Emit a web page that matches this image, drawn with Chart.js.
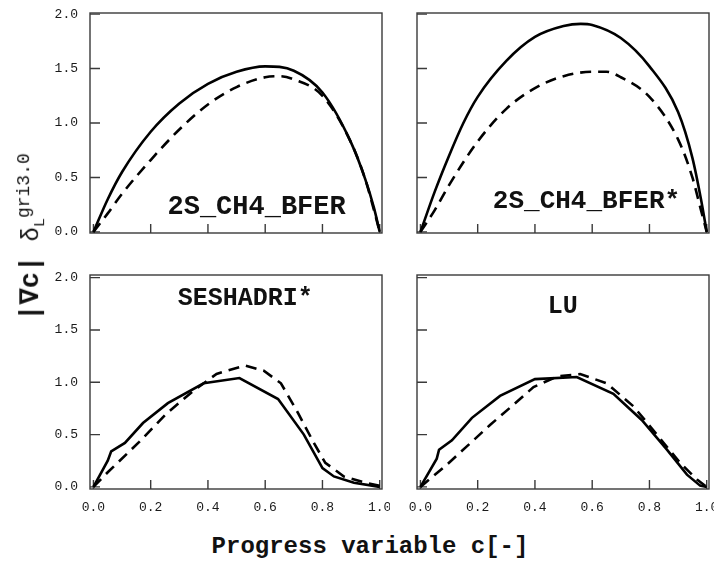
<!DOCTYPE html>
<html lang="en">

<head>
    <meta charset="UTF-8">
    <title>Progress variable gradient</title>
    <script src="https://cdn.jsdelivr.net/npm/chart.js"></script>
    <style>
        body { margin: 0; background: #fff; overflow: hidden; }
        #wrap { position: relative; width: 714px; height: 563px; overflow: hidden; }
        canvas { position: absolute; }
        .title { position: absolute; font-family: "Liberation Mono", "DejaVu Sans Mono", monospace; color: #111; white-space: nowrap; }
        #xtitle { left: 370px; top: 546px; transform: translate(-50%, -50%); font-size: 24px; font-weight: bold; }
        #ytitle { left: 31px; top: 237px; transform: translate(-50%, -50%) rotate(-90deg); font-size: 24px; }
        #ytitle .main { font-weight: bold; font-size: 27px; }
        #ytitle sub { font-size: 15px; }
        #ytitle sup { font-size: 18px; }
    </style>
</head>

<body>
    <div id="wrap">
        <canvas id="tl"></canvas>
        <canvas id="tr"></canvas>
        <canvas id="bl"></canvas>
        <canvas id="br"></canvas>
        <div id="xtitle" class="title">Progress variable c[-]</div>
        <div id="ytitle" class="title"><span class="main">|∇c|</span> δ<sub>L</sub><sup>gri3.0</sup></div>
    </div>

    <script>
        // tick values
        const xTicks = [0, 0.2, 0.4, 0.6, 0.8, 1.0];
        const yTicks = [0, 0.5, 1.0, 1.5, 2.0];

        // 2S_CH4_BFER
        const tlSolidC = [0, 0.05, 0.1, 0.2, 0.3, 0.4, 0.5, 0.6, 0.7, 0.8, 0.9, 0.95, 0.98, 1.0];
        const tlSolidV = [0, 0.30, 0.55, 0.92, 1.18, 1.36, 1.47, 1.52, 1.48, 1.28, 0.82, 0.48, 0.22, 0];
        const tlDashC = [0, 0.05, 0.1, 0.2, 0.3, 0.4, 0.5, 0.6, 0.65, 0.7, 0.8, 0.9, 0.95, 0.98, 1.0];
        const tlDashV = [0, 0.17, 0.35, 0.66, 0.94, 1.17, 1.33, 1.42, 1.43, 1.40, 1.25, 0.82, 0.48, 0.20, 0];

        // 2S_CH4_BFER*
        const trSolidC = [0, 0.05, 0.1, 0.15, 0.2, 0.3, 0.4, 0.5, 0.56, 0.6, 0.7, 0.8, 0.9, 0.95, 0.98, 1.0];
        const trSolidV = [0, 0.37, 0.70, 1.00, 1.24, 1.57, 1.79, 1.89, 1.91, 1.90, 1.78, 1.52, 1.10, 0.68, 0.30, 0];
        const trDashC = [0, 0.05, 0.1, 0.2, 0.3, 0.4, 0.5, 0.6, 0.65, 0.7, 0.8, 0.9, 0.95, 0.98, 1.0];
        const trDashV = [0, 0.20, 0.43, 0.83, 1.13, 1.32, 1.43, 1.47, 1.47, 1.42, 1.24, 0.85, 0.50, 0.20, 0];

        // SESHADRI*
        const blSolidC = [0, 0.05, 0.062, 0.11, 0.173, 0.26, 0.385, 0.51, 0.645, 0.735, 0.80, 0.84, 0.91, 1.0];
        const blSolidV = [0, 0.25, 0.34, 0.42, 0.61, 0.80, 0.99, 1.04, 0.84, 0.50, 0.18, 0.10, 0.04, 0];
        const blDashC = [0, 0.05, 0.16, 0.255, 0.35, 0.43, 0.53, 0.595, 0.655, 0.71, 0.77, 0.81, 0.875, 0.95, 1.0];
        const blDashV = [0, 0.14, 0.43, 0.70, 0.92, 1.08, 1.16, 1.11, 0.99, 0.73, 0.42, 0.23, 0.10, 0.04, 0.01];

        // LU
        const brSolidC = [0, 0.057, 0.065, 0.11, 0.18, 0.278, 0.40, 0.546, 0.674, 0.773, 0.861, 0.931, 0.977, 1.0];
        const brSolidV = [0, 0.27, 0.356, 0.445, 0.66, 0.87, 1.03, 1.05, 0.89, 0.64, 0.356, 0.117, 0.012, 0];
        const brDashC = [0, 0.086, 0.162, 0.244, 0.325, 0.395, 0.477, 0.558, 0.651, 0.744, 0.826, 0.907, 0.966, 1.0];
        const brDashV = [0, 0.197, 0.387, 0.594, 0.785, 0.954, 1.055, 1.078, 0.99, 0.77, 0.50, 0.23, 0.07, 0];

        const panelLabels = ['2S_CH4_BFER', '2S_CH4_BFER*', 'SESHADRI*', 'LU'];

        const monoFont = '"Liberation Mono", "DejaVu Sans Mono", monospace';

        const toPoints = (cs, vs) => cs.map((c, i) => ({ x: c, y: vs[i] }));

        // frame, inward ticks and panel label
        const framePlugin = {
            id: 'frame',
            beforeDatasetsDraw(chart) {
                const { ctx, chartArea: a, scales: { x, y } } = chart;
                ctx.save();
                ctx.strokeStyle = '#3a3a3a';
                ctx.lineWidth = 1.4;
                ctx.strokeRect(a.left, a.top, a.right - a.left, a.bottom - a.top);
                ctx.beginPath();
                xTicks.forEach(v => {
                    const px = x.getPixelForValue(v);
                    ctx.moveTo(px, a.bottom);
                    ctx.lineTo(px, a.bottom - 9);
                });
                yTicks.forEach(v => {
                    const py = y.getPixelForValue(v);
                    ctx.moveTo(a.left, py);
                    ctx.lineTo(a.left + 10, py);
                });
                ctx.stroke();
                ctx.restore();
            },
            afterDraw(chart) {
                const o = chart.options.plugins.frame;
                const { ctx, scales: { x, y } } = chart;
                ctx.save();
                ctx.fillStyle = '#111';
                ctx.font = 'bold ' + o.size + 'px ' + monoFont;
                ctx.textAlign = 'center';
                ctx.textBaseline = 'alphabetic';
                ctx.fillText(o.label, x.getPixelForValue(o.at[0]), y.getPixelForValue(o.at[1]));
                ctx.restore();
            }
        };

        function makePanel(id, box, solid, dashed, label, labelAt, labelSize, showX, showY, yMin, yMax, tension) {
            const axisW = 44, axisH = 34;
            const padL = 45, padT = 5, padR = 8, padB = 35;
            const canvas = document.getElementById(id);
            canvas.width = box.r - box.l + padL + padR;
            canvas.height = box.b - box.t + padT + padB;
            canvas.style.left = (box.l - padL) + 'px';
            canvas.style.top = (box.t - padT) + 'px';

            // fixed axis boxes so every panel has the same plot area
            const fixFit = horizontal => scale => {
                if (horizontal) scale.height = axisH; else scale.width = axisW;
                scale.paddingLeft = scale.paddingRight = scale.paddingTop = scale.paddingBottom = 0;
            };

            return new Chart(canvas.getContext('2d'), {
                type: 'line',
                data: {
                    datasets: [{
                        data: solid,
                        borderColor: '#000',
                        borderWidth: 2.6,
                        pointRadius: 0,
                        tension: tension,
                        cubicInterpolationMode: tension > 0 ? 'monotone' : 'default'
                    }, {
                        data: dashed,
                        borderColor: '#000',
                        borderWidth: 2.6,
                        borderDash: [11, 7],
                        pointRadius: 0,
                        tension: tension,
                        cubicInterpolationMode: tension > 0 ? 'monotone' : 'default'
                    }]
                },
                options: {
                    responsive: false,
                    animation: false,
                    events: [],
                    layout: { padding: { left: padL - axisW, top: padT, right: padR, bottom: padB - axisH } },
                    plugins: {
                        legend: { display: false },
                        tooltip: { enabled: false },
                        frame: { label: label, at: labelAt, size: labelSize }
                    },
                    scales: {
                        x: {
                            type: 'linear',
                            min: -0.012,
                            max: 1.008,
                            grid: { display: false },
                            border: { display: false },
                            afterBuildTicks: s => { s.ticks = xTicks.map(v => ({ value: v })); },
                            afterFit: fixFit(true),
                            ticks: {
                                display: showX,
                                autoSkip: false,
                                maxRotation: 0,
                                padding: 3,
                                color: '#1a1a1a',
                                font: { family: monoFont, size: 13 },
                                callback: v => v.toFixed(1)
                            }
                        },
                        y: {
                            type: 'linear',
                            min: yMin,
                            max: yMax,
                            grid: { display: false },
                            border: { display: false },
                            afterBuildTicks: s => { s.ticks = yTicks.map(v => ({ value: v })); },
                            afterFit: fixFit(false),
                            ticks: {
                                display: showY,
                                autoSkip: false,
                                padding: 4,
                                color: '#1a1a1a',
                                font: { family: monoFont, size: 13 },
                                callback: v => v.toFixed(1)
                            }
                        }
                    }
                },
                plugins: [framePlugin]
            });
        }

        makePanel('tl', { l: 90, t: 13, r: 382, b: 233 },
            toPoints(tlSolidC, tlSolidV), toPoints(tlDashC, tlDashV),
            panelLabels[0], [0.57, 0.16], 27, false, true, -0.01, 2.01, 0.4);
        makePanel('tr', { l: 417, t: 13, r: 709, b: 233 },
            toPoints(trSolidC, trSolidV), toPoints(trDashC, trDashV),
            panelLabels[1], [0.58, 0.22], 26, false, false, -0.01, 2.01, 0.4);
        makePanel('bl', { l: 90, t: 275, r: 382, b: 489 },
            toPoints(blSolidC, blSolidV), toPoints(blDashC, blDashV),
            panelLabels[2], [0.53, 1.74], 25, true, true, -0.02, 2.025, 0);
        makePanel('br', { l: 417, t: 275, r: 709, b: 489 },
            toPoints(brSolidC, brSolidV), toPoints(brDashC, brDashV),
            panelLabels[3], [0.497, 1.66], 25, true, false, -0.02, 2.025, 0);
    </script>
</body>

</html>
